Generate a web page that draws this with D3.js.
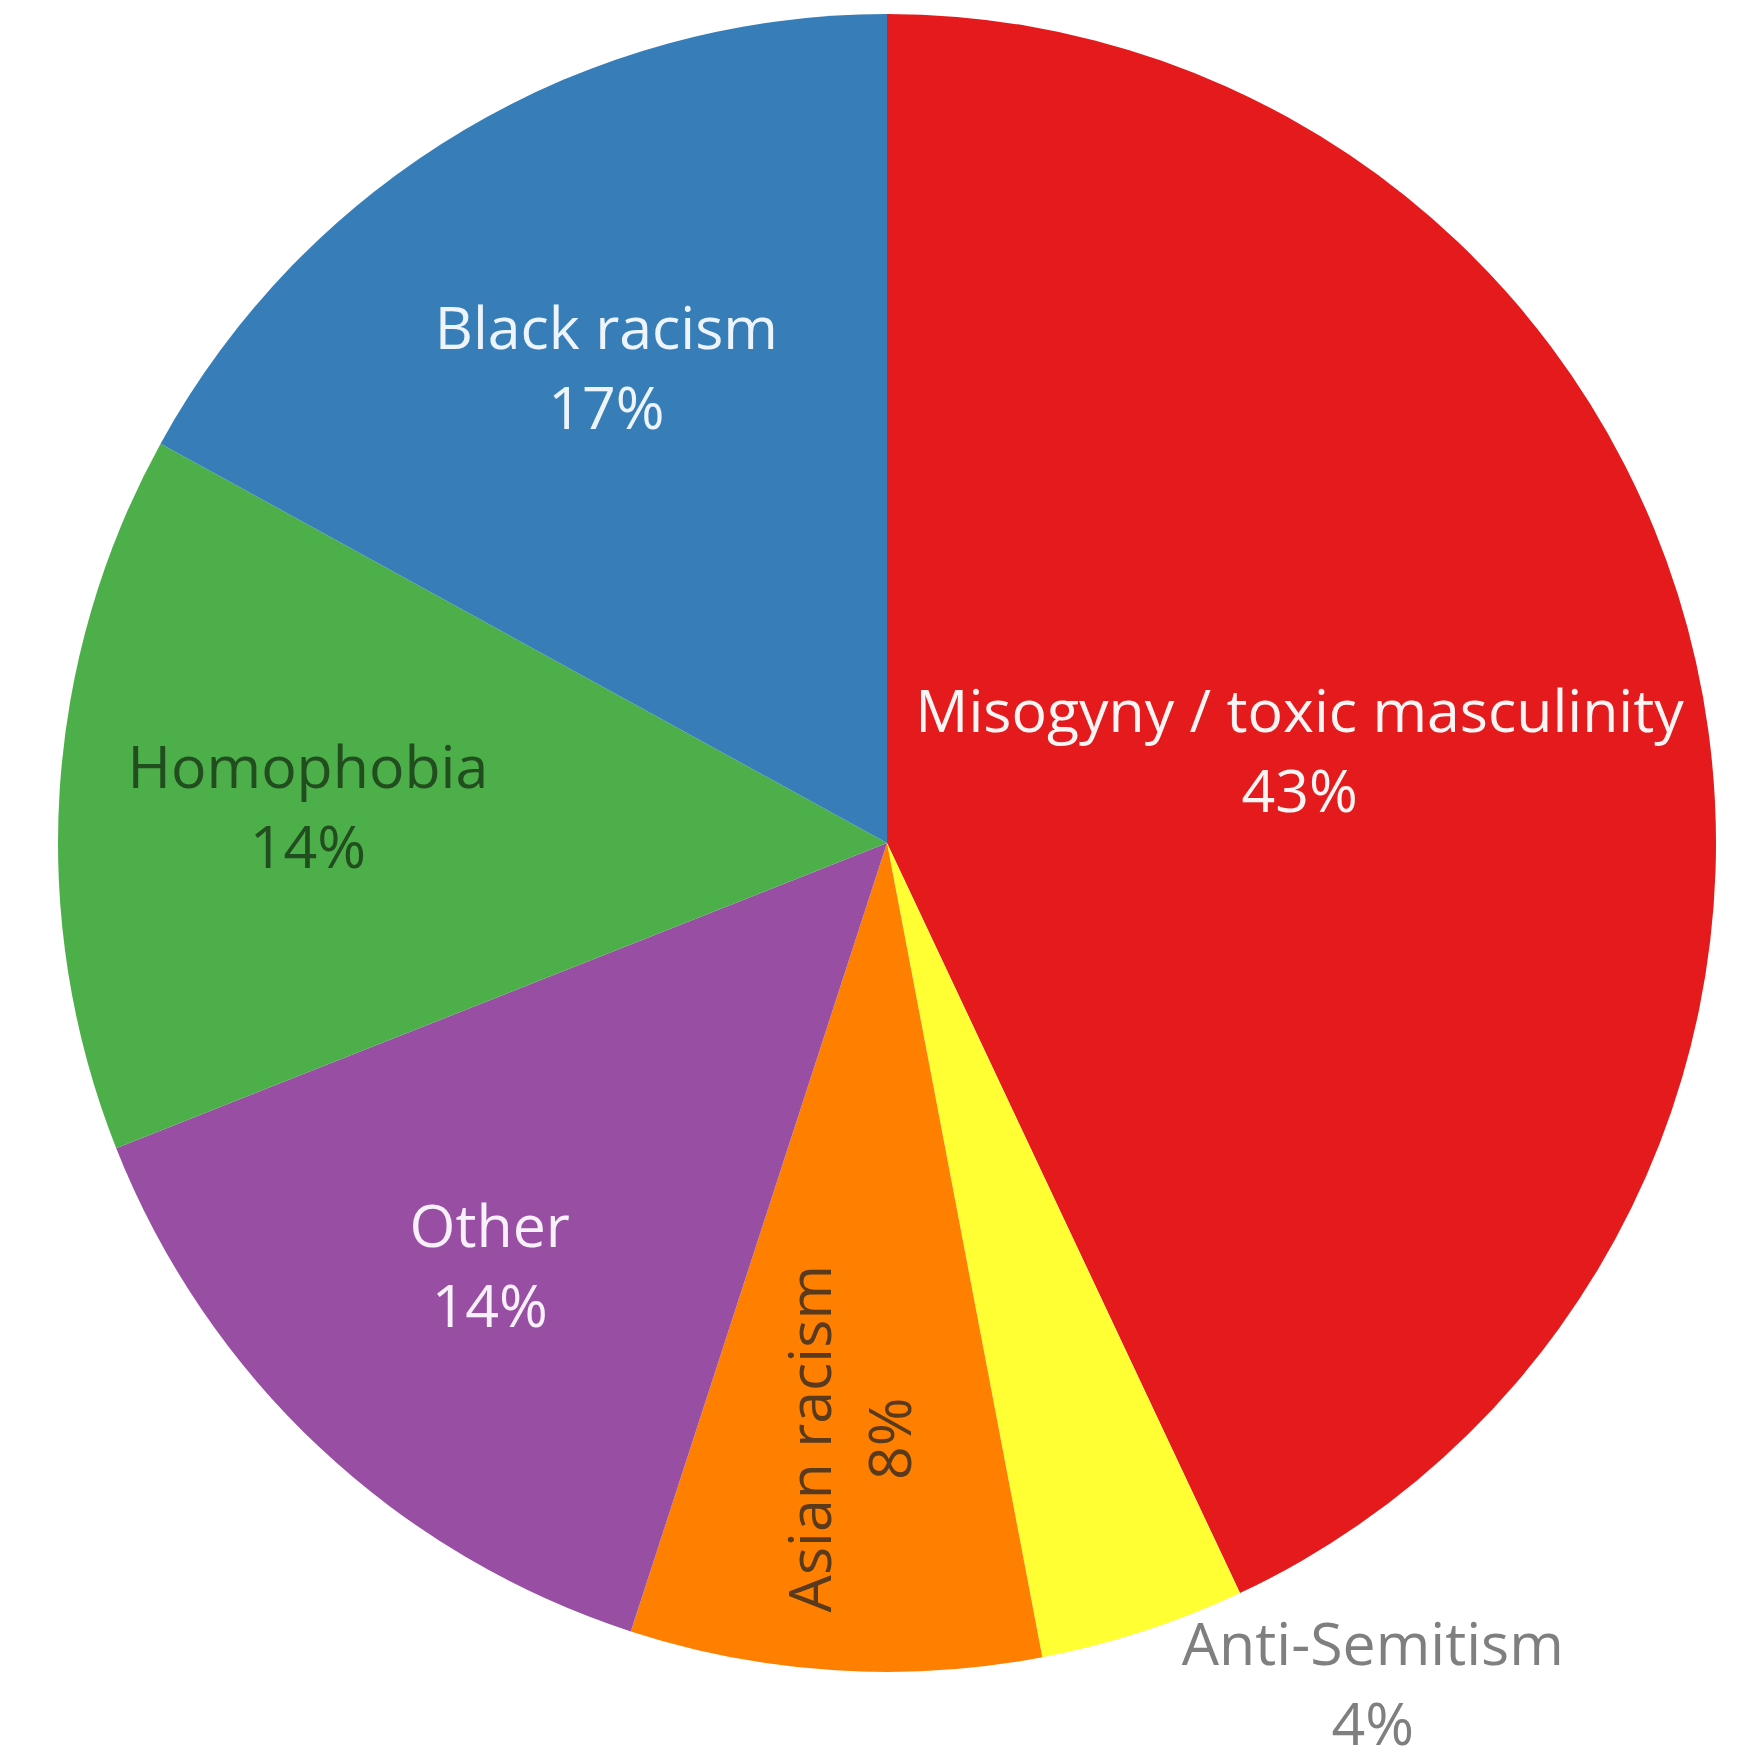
<!DOCTYPE html>
<html>
<head>
<meta charset="utf-8">
<script src="https://cdn.jsdelivr.net/npm/d3@7"></script>
<style>
  body { margin: 0; background: #fff; }
  text { font-family: "Open Sans", sans-serif; }
</style>
</head>
<body>
<div id="chart"></div>
<script>
const categories = ["Misogyny / toxic masculinity", "Anti-Semitism", "Asian racism", "Other", "Homophobia", "Black racism"];
const shares = [43, 4, 8, 14, 14, 17];
const colors = ["#e41a1c", "#ffff33", "#ff7f00", "#984ea3", "#4daf4a", "#377eb8"];
const labelColors = ["#faf4f4", "#7f7f7f", "#5a3a1c", "#f8f0fa", "#214d1f", "#eef4fb"];

// label placement, as fraction of radius (Anti-Semitism sits outside the pie)
const labelRadius = [0.51, 1.172, 0.72, 0.70, 0.70, 0.665];
const labelAngleShift = [0, -12, 0, 0, 0, 0];   // degrees
const labelRotate = [0, 0, -90, 0, 0, 0];

function drawPie() {
    const svg = d3.select("#chart").append("svg")
        .attr("width", 1742)
        .attr("height", 1764);

    const cx = 887, cy = 843, radius = 829;
    const fontSize = 59, lineGap = 80;

    const pie = d3.pie().sort(null).value(d => d);
    const arcs = pie(shares);

    const arc = d3.arc().innerRadius(0).outerRadius(radius);

    const g = svg.append("g")
        .attr("transform", `translate(${cx},${cy})`);

    g.selectAll("path.slice")
        .data(arcs)
        .join("path")
        .attr("class", "slice")
        .attr("d", arc)
        .attr("fill", (d, i) => colors[i]);

    arcs.forEach((d, i) => {
        const a = (d.startAngle + d.endAngle) / 2 + labelAngleShift[i] * Math.PI / 180;
        const r = labelRadius[i] * radius;
        const x = r * Math.sin(a), y = -r * Math.cos(a);

        const lab = g.append("g")
            .attr("transform", `translate(${x},${y}) rotate(${labelRotate[i]})`)
            .attr("fill", labelColors[i])
            .attr("font-size", fontSize)
            .attr("text-anchor", "middle");

        lab.append("text")
            .attr("y", -19)
            .text(categories[i]);

        lab.append("text")
            .attr("y", -19 + lineGap)
            .text(shares[i] + "%");
    });
}

drawPie();
</script>
</body>
</html>
